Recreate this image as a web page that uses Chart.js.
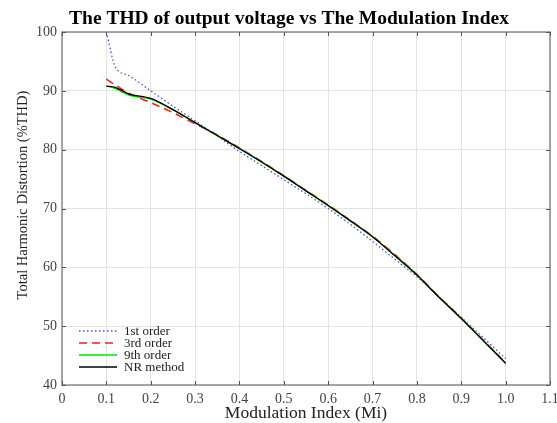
<!DOCTYPE html>
<html>
<head>
<meta charset="utf-8">
<script src="https://cdn.jsdelivr.net/npm/chart.js@4.4.0/dist/chart.umd.min.js"></script>
<style>
html,body{margin:0;padding:0;background:#fff;}
canvas{display:block;}
</style>
</head>
<body>
<canvas id="c" width="557" height="423"></canvas>
<script>
const mi     = [0.10,0.12,0.15,0.20,0.25,0.30,0.35,0.40,0.45,0.50,0.55,0.60,0.65,0.70,0.75,0.80,0.85,0.90,0.95,1.00];
const first  = [100.0,94.1,92.6,90.0,87.4,84.9,82.3,79.7,77.3,74.9,72.5,70.0,67.3,64.4,61.4,58.4,55.0,51.5,48.0,44.5];
const third  = [92.0,91.0,89.6,88.0,86.3,84.4,82.5,80.3,78.0,75.6,73.1,70.6,68.0,65.3,62.2,58.8,55.0,51.4,47.6,43.8];
const ninth  = [90.8,90.4,89.3,88.6,86.8,84.6,82.4,80.2,77.9,75.5,73.0,70.5,67.9,65.2,62.0,58.7,54.9,51.3,47.5,43.7];
const nr     = [90.8,90.6,89.5,88.7,86.8,84.6,82.4,80.2,77.9,75.5,73.0,70.5,67.9,65.2,62.0,58.7,54.9,51.3,47.5,43.7];
const seriesNames = ['1st order','3rd order','9th order','NR method'];
const titleText = 'The THD of output voltage vs The Modulation Index';
const xTitle = 'Modulation Index (Mi)';
const yTitle = 'Total Harmonic Distortion (%THD)';

const pts = arr => arr.map((v,i)=>({x:mi[i], y:v}));
const SERIF = '"Liberation Serif", "Times New Roman", serif';

const decor = {
  id:'decor',
  afterDraw(chart){
    const {ctx, chartArea:a, scales:{x,y}} = chart;
    ctx.save();
    // box
    ctx.strokeStyle = '#8a8a8a';
    ctx.lineWidth = 1.5;
    ctx.strokeRect(a.left, a.top, a.right-a.left, a.bottom-a.top);
    // inner ticks
    ctx.strokeStyle = '#555';
    ctx.lineWidth = 1;
    x.ticks.forEach(t=>{
      const px = Math.round(x.getPixelForValue(t.value))+0.5;
      ctx.beginPath(); ctx.moveTo(px,a.bottom); ctx.lineTo(px,a.bottom-4); ctx.stroke();
      ctx.beginPath(); ctx.moveTo(px,a.top); ctx.lineTo(px,a.top+4); ctx.stroke();
    });
    y.ticks.forEach(t=>{
      const py = Math.round(y.getPixelForValue(t.value))+0.5;
      ctx.beginPath(); ctx.moveTo(a.left,py); ctx.lineTo(a.left+4,py); ctx.stroke();
      ctx.beginPath(); ctx.moveTo(a.right,py); ctx.lineTo(a.right-4,py); ctx.stroke();
    });
    // title
    ctx.fillStyle = '#000';
    ctx.font = 'bold 19.5px ' + SERIF;
    ctx.textAlign = 'center';
    ctx.textBaseline = 'alphabetic';
    ctx.fillText(titleText, 289, 24);
    // axis titles
    ctx.fillStyle = '#222';
    ctx.font = '17.5px ' + SERIF;
    ctx.fillText(xTitle, 306, 418);
    ctx.save();
    ctx.font = '14.5px ' + SERIF;
    ctx.translate(27, 195);
    ctx.rotate(-Math.PI/2);
    ctx.fillText(yTitle, 0, 0);
    ctx.restore();
    // legend
    ctx.font = '13px ' + SERIF;
    ctx.textAlign = 'left';
    ctx.textBaseline = 'middle';
    chart.data.datasets.forEach((ds,i)=>{
      const ly = 331 + i*12;
      ctx.save();
      ctx.strokeStyle = ds.borderColor;
      ctx.lineWidth = ds.borderWidth;
      ctx.setLineDash(ds.borderDash || []);
      ctx.beginPath(); ctx.moveTo(79,ly); ctx.lineTo(117,ly); ctx.stroke();
      ctx.restore();
      ctx.fillStyle = '#222';
      ctx.fillText(ds.label, 124, ly+0.5);
    });
    ctx.restore();
  }
};

new Chart(document.getElementById('c'), {
  type:'line',
  data:{
    datasets:[
      {label:seriesNames[0], data:pts(first), borderColor:'#4b4bff', borderWidth:1.3, borderDash:[1.5,2.5], order:3},
      {label:seriesNames[1], data:pts(third), borderColor:'#ff1a1a', borderWidth:1.5, borderDash:[8,5], order:2},
      {label:seriesNames[2], data:pts(ninth), borderColor:'#00e600', borderWidth:1.5, order:1},
      {label:seriesNames[3], data:pts(nr), borderColor:'#000000', borderWidth:1.3, order:0}
    ]
  },
  options:{
    responsive:false,
    animation:false,
    layout:{padding:{left:0, right:7, top:32, bottom:0}},
    elements:{point:{radius:0}, line:{cubicInterpolationMode:'monotone', fill:false}},
    plugins:{legend:{display:false}, title:{display:false}, tooltip:{enabled:false}},
    scales:{
      x:{
        type:'linear', min:0, max:1.1,
        grid:{color:'#e3e3e3', lineWidth:1, drawTicks:false},
        border:{display:false},
        ticks:{stepSize:0.1, padding:6, color:'#444', font:{family:SERIF, size:14},
          callback:v=> Math.abs(v)<1e-9 ? '0' : v.toFixed(1)},
        afterFit:s=>{ s.height = 38; s.paddingLeft = 0; s.paddingRight = 0; }
      },
      y:{
        type:'linear', min:40, max:100,
        grid:{color:'#e3e3e3', lineWidth:1, drawTicks:false},
        border:{display:false},
        ticks:{stepSize:10, padding:5, color:'#444', font:{family:SERIF, size:14}},
        afterFit:s=>{ s.width = 62; s.paddingTop = 0; s.paddingBottom = 0; }
      }
    }
  },
  plugins:[decor]
});
</script>
</body>
</html>
